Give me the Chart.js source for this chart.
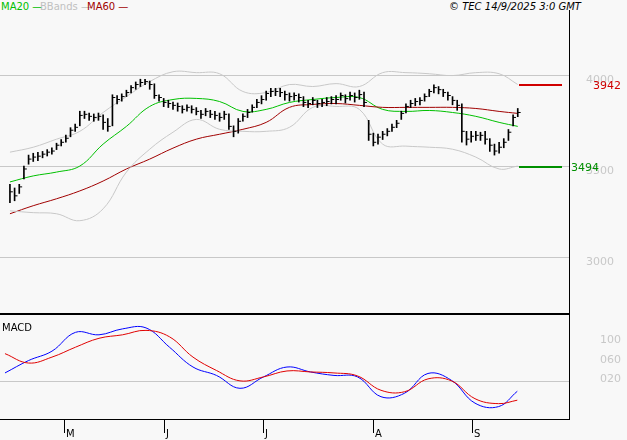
<!DOCTYPE html>
<html><head><meta charset="utf-8">
<script src="https://cdn.jsdelivr.net/npm/chart.js@4"></script>
<style>
body{margin:0;background:#f8f8f8;width:627px;height:440px;overflow:hidden;position:relative;font-family:"DejaVu Sans",sans-serif;}
canvas{position:absolute;left:0;}
#c1{top:0;} #c2{top:316px;}
.t{position:absolute;font-size:10px;top:1px;white-space:nowrap;}
</style></head><body>
<div class="t" style="left:1px;color:#00c000">MA20 —</div>
<div class="t" style="left:40px;color:#c0c0c0">BBands —</div>
<div class="t" style="left:87px;color:#a00000">MA60 —</div>
<div class="t" style="left:449px;color:#000;font-style:italic">© TEC 14/9/2025 3:0 GMT</div>
<canvas id="c1" width="627" height="316"></canvas>
<canvas id="c2" width="627" height="124"></canvas>
<script>
const closes=[3359,3337,3386,3484,3538,3549,3554,3565,3576,3582,3614,3630,3652,3696,3712,3777,3783,3772,3766,3772,3739,3717,3875,3864,3880,3902,3929,3946,3957,3962,3946,3886,3875,3848,3842,3832,3826,3810,3821,3810,3799,3783,3799,3783,3777,3766,3783,3717,3690,3745,3772,3793,3821,3848,3864,3897,3908,3908,3902,3891,3880,3886,3875,3848,3842,3859,3842,3848,3853,3864,3864,3886,3869,3886,3875,3891,3848,3674,3630,3658,3674,3690,3712,3734,3788,3826,3842,3853,3859,3880,3908,3929,3918,3902,3886,3859,3832,3690,3647,3663,3668,3668,3647,3614,3582,3603,3630,3685,3766,3793];
const highs=[3400,3380,3400,3500,3560,3570,3575,3580,3590,3600,3625,3645,3670,3710,3730,3800,3800,3790,3785,3790,3780,3760,3890,3885,3895,3915,3940,3960,3975,3975,3965,3950,3890,3870,3860,3850,3845,3830,3835,3830,3820,3805,3815,3805,3800,3790,3800,3785,3720,3760,3785,3810,3835,3865,3885,3910,3925,3925,3925,3910,3900,3900,3895,3880,3860,3875,3860,3865,3875,3880,3885,3900,3890,3905,3900,3915,3905,3750,3680,3675,3690,3705,3730,3750,3800,3840,3860,3870,3875,3895,3920,3945,3935,3920,3905,3880,3860,3840,3690,3690,3690,3685,3690,3650,3620,3630,3650,3700,3780,3815];
const lows=[3300,3310,3350,3430,3510,3525,3530,3545,3555,3565,3590,3610,3630,3660,3690,3720,3760,3750,3745,3750,3700,3690,3720,3840,3855,3880,3900,3920,3935,3945,3920,3870,3855,3825,3820,3810,3800,3790,3800,3790,3780,3760,3775,3765,3755,3745,3755,3700,3660,3680,3745,3765,3795,3820,3840,3860,3880,3885,3880,3860,3855,3860,3850,3825,3820,3835,3820,3825,3830,3840,3840,3860,3845,3860,3850,3865,3825,3640,3610,3620,3645,3665,3690,3710,3755,3790,3820,3830,3835,3855,3880,3900,3895,3880,3860,3835,3805,3630,3615,3630,3640,3640,3620,3580,3560,3570,3600,3640,3720,3770];
const idxPts=[0,5,10,15,20,25,30,35,40,45,50,55,60,65,70,75,80,85,90,95,100,105,109];
const ma20=[3413,3446,3467,3500,3620,3717,3826,3864,3870,3853,3799,3810,3848,3864,3875,3875,3810,3799,3804,3793,3772,3739,3717];
const ma60=[3239,3283,3321,3364,3418,3484,3538,3598,3647,3674,3701,3739,3821,3837,3842,3832,3821,3821,3821,3821,3815,3799,3788];
const bbUpper=[3576,3603,3647,3690,3793,3880,3962,4016,4011,4005,3908,3902,3946,3935,3951,3935,4011,4011,4005,3995,4011,4005,3946];
const bbLower=[3255,3245,3239,3201,3266,3467,3592,3685,3755,3701,3690,3690,3712,3821,3826,3810,3620,3609,3603,3592,3549,3484,3500];
const macd=[0.37,0.62,0.81,1.19,1.14,1.26,1.28,0.89,0.49,0.32,0.06,0.29,0.49,0.39,0.32,0.29,-0.11,-0.04,0.36,0.22,-0.24,-0.31,0.00];
const signal=[0.76,0.57,0.69,0.89,1.07,1.14,1.23,1.10,0.69,0.42,0.21,0.29,0.41,0.39,0.37,0.31,0.02,-0.01,0.25,0.21,-0.15,-0.25,-0.18];
const priceTicks=[3000,3500,4000];
const macdTicks=[0.2,0.6,1.0];
const macdTickLabels=["020","060","100"];
const levels=[{v:3942,c:'#d00000',txt:'3942',lx:593},{v:3494,c:'#009000',txt:'3494',lx:571}];
const monthLabels=['M','J','J','A','S'];
const monthPos=[12.55,33.8,54.9,78.3,99.4];
const XMIN=-1.06,XMAX=120;

const pts=a=>a.map((v,i)=>({x:idxPts[i],y:v}));
const line=(a,c)=>({type:'line',data:pts(a),borderColor:c,borderWidth:1,pointRadius:0,tension:0.4,order:2});

new Chart(document.getElementById('c1'),{
 data:{datasets:[
  line(bbUpper,'#c8c8c8'),line(bbLower,'#c8c8c8'),
  line(ma60,'#a00000'),line(ma20,'#00c000'),
  {type:'bar',data:closes.map((c,i)=>({x:i,y:[lows[i],highs[i]]})),backgroundColor:'#000',barThickness:1,order:1},
  {type:'scatter',data:closes.map((c,i)=>({x:i+0.3,y:c})),pointStyle:'line',radius:1.5,borderColor:'#000',borderWidth:1,order:0}
 ]},
 options:{responsive:false,animation:false,layout:{padding:{top:20,bottom:3,left:0,right:58}},
  plugins:{legend:{display:false},tooltip:{enabled:false}},
  scales:{
   x:{type:'linear',min:XMIN,max:XMAX,display:false,offset:false},
   y:{min:2707,max:4299,display:false}
  }},
 plugins:[{id:'grid',beforeDatasetsDraw(ch){const g=ch.ctx,a=ch.chartArea,y=ch.scales.y;
   g.save();g.fillStyle='#c8c8c8';g.font='11px DejaVu Sans';g.textBaseline='middle';
   priceTicks.forEach(v=>{const py=Math.round(y.getPixelForValue(v));g.fillRect(0,py,a.right,1);g.fillText(String(v),586,py+5);});
   g.restore();},
  afterDraw(ch){const g=ch.ctx,a=ch.chartArea,y=ch.scales.y;
  g.save();g.fillStyle='#000';g.fillRect(a.right,10,1,316);g.fillRect(0,313,a.right,2);
  levels.forEach(l=>{const py=Math.round(y.getPixelForValue(l.v));g.fillStyle=l.c;g.fillRect(519,py-1,43,2);
   g.font='11px DejaVu Sans';g.textBaseline='middle';g.fillText(l.txt,l.lx,py+1);});
  g.restore();}}]
});

new Chart(document.getElementById('c2'),{
 data:{datasets:[line(signal,'#e00000'),line(macd,'#0000ff')]},
 options:{responsive:false,animation:false,layout:{padding:{top:0,bottom:21,left:0,right:58}},
  plugins:{legend:{display:false},tooltip:{enabled:false}},
  scales:{
   x:{type:'linear',min:XMIN,max:XMAX,display:false,offset:false},
   y:{min:-0.56,max:1.52,display:false}
  }},
 plugins:[{id:'deco2',beforeDatasetsDraw(ch){const g=ch.ctx,a=ch.chartArea,y=ch.scales.y;
   g.save();g.fillStyle='#c8c8c8';g.font='11px DejaVu Sans';g.textBaseline='middle';
   g.fillRect(0,Math.round(y.getPixelForValue(macdTicks[0])),a.right,1);
   macdTicks.forEach((v,i)=>{g.fillText(macdTickLabels[i],600,Math.round(y.getPixelForValue(v))-2);});
   g.restore();},
  afterDraw(ch){const g=ch.ctx,a=ch.chartArea,x=ch.scales.x;
  g.save();g.fillStyle='#000';g.fillRect(a.right,0,1,a.bottom+1);g.fillRect(0,a.bottom,a.right+1,1);
  g.font='10px DejaVu Sans';g.textBaseline='top';g.fillText('MACD',2,7);
  monthPos.forEach((m,i)=>{const px=Math.round(x.getPixelForValue(m));g.fillRect(px,a.bottom,1,14);g.fillText(monthLabels[i],px+2,a.bottom+10);});
  g.restore();}}]
});
</script></body></html>
